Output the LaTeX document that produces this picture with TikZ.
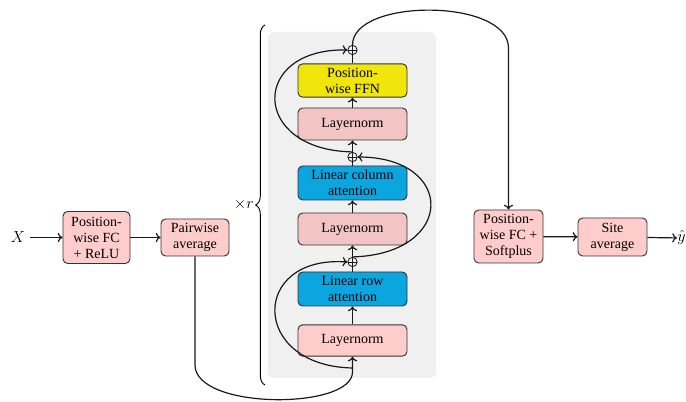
\documentclass[tikz,border=0pt]{standalone}
\usepackage{fontspec}
\setmainfont{Liberation Serif}
\usetikzlibrary{decorations.pathreplacing,arrows.meta}
\definecolor{pinkA}{HTML}{FFCCCC}
\definecolor{pinkB}{HTML}{F2C4C4}
\definecolor{cyanbox}{HTML}{0BA6DF}
\definecolor{yellowbox}{HTML}{F1E60B}
\definecolor{bggray}{HTML}{F0F0F0}
\begin{document}
\begin{tikzpicture}[x=0.75pt,y=-0.75pt,
  >={Computer Modern Rightarrow[length=3.6pt,width=7pt]},
  box/.style={draw=black!80, line width=0.7pt, rounded corners=3.5pt, align=center, inner sep=1pt,
    font=\fontsize{10.5}{12}\selectfont},
  colbox/.style={box, minimum width=81.75pt},
  flow/.style={line width=0.9pt, draw=black!90},
  plus/.style={circle, draw=black!90, line width=0.6pt, minimum size=7pt, inner sep=0pt,
    path picture={\draw[line width=0.6pt] (path picture bounding box.north) -- (path picture bounding box.south)
      (path picture bounding box.west) -- (path picture bounding box.east);}}]
\useasboundingbox (0,0) rectangle (686,402);
\fill[bggray, rounded corners=4.5pt] (268,32) rectangle (436,378);

% left chain
\node (x) at (18,237.5) {\large $X$};
\node[box, fill=pinkA, minimum width=50.25pt, minimum height=39pt] (fc) at (96.5,237.5) {Position-\\wise FC\\+ ReLU};
\node[box, fill=pinkA, minimum width=51pt, minimum height=27.75pt] (pa) at (195,237.5) {Pairwise\\average};

% column
\node[colbox, fill=pinkA, minimum height=23.5pt] (ln1) at (352.5,340.5) {Layernorm};
\node[colbox, fill=cyanbox, minimum height=25.5pt] (row) at (352.5,289) {Linear row\\attention};
\node[plus] (o1) at (352.5,262) {};
\node[colbox, fill=pinkB, minimum height=24pt] (ln2) at (352.5,229) {Layernorm};
\node[colbox, fill=cyanbox, minimum height=25.5pt] (col) at (352.5,183) {Linear column\\attention};
\node[plus] (o2) at (352.5,157) {};
\node[colbox, fill=pinkB, minimum height=24pt] (ln3) at (352.5,124) {Layernorm};
\node[colbox, fill=yellowbox, minimum height=25pt] (ffn) at (352.5,80.5) {Position-\\wise FFN};
\node[plus] (o3) at (352.5,50) {};

% right chain
\node[box, fill=pinkA, minimum width=51.75pt, minimum height=39.75pt] (sp) at (508.5,236.5) {Position-\\wise FC +\\Softplus};
\node[box, fill=pinkA, minimum width=51.75pt, minimum height=28.5pt] (sa) at (612.5,237) {Site\\average};
\node[anchor=west, inner sep=0pt] (y) at (677,238) {\large $\hat{y}$};

% brace
\draw[line width=0.7pt, decorate, decoration={brace, amplitude=7pt}] (265,385) -- (265,25)
  node[midway, left=7pt, inner sep=1pt] (rr) {\large $\times r$};

% connectors
\draw[flow,->] (x) -- (fc);
\draw[flow,->] (fc) -- (pa);
\coordinate (r1) at (352.5,368);
\draw[flow,->] (pa.south) -- (195,365) .. controls (195,410) and (352.5,410) .. (352.5,372) -- (ln1.south);
\draw[flow,->] (ln1) -- (row);
\draw[flow] (row) -- (o1);
\draw[flow,->] (o1) -- (ln2);
\draw[flow,->] (ln2) -- (col);
\draw[flow] (col) -- (o2);
\draw[flow,->] (o2) -- (ln3);
\draw[flow,->] (ln3) -- (ffn);
\draw[flow] (ffn) -- (o3);

\draw[flow,->] (r1) .. controls (250,366) and (250,255) .. (o1.west);
\draw[flow,->] (o1.north) .. controls (456,254) and (456,157) .. (o2.east);
\draw[flow,->] (o2.north) .. controls (250,150) and (250,48) .. (o3.west);

\coordinate (top) at (508.5,48);
\draw[flow,->] (o3.north) .. controls (352.5,-2) and (508.5,-2) .. (top) -- (sp.north);
\draw[flow,->] (sp) -- (sa);
\draw[flow,->] (sa) -- (y);
\end{tikzpicture}
\end{document}
